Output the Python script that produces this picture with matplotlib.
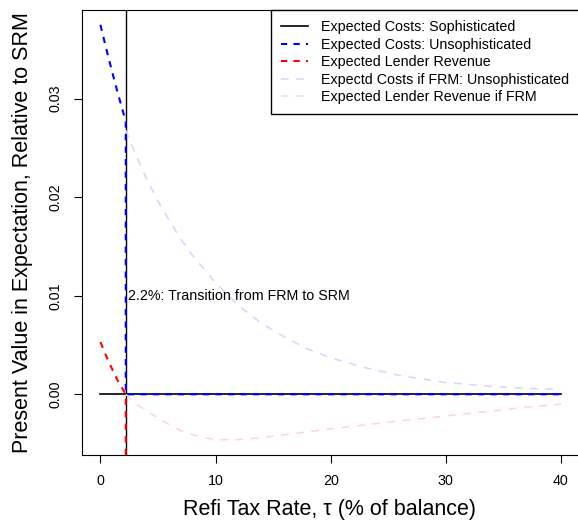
import matplotlib
matplotlib.use("Agg")
import matplotlib.pyplot as plt

plt.rcParams['font.family'] = ['Liberation Sans', 'DejaVu Sans']

# Data
transition = 2.2

soph_x = [0, 40]
soph_y = [0.0, 0.0]

unsoph_x = [0, 0.5, 1.0, 1.5, 2.2, 2.2, 40]
unsoph_y = [0.0375, 0.0351, 0.0328, 0.0306, 0.0277, 0.0, 0.0]

lender_x = [0, 0.5, 1.0, 1.5, 2.2, 2.2]
lender_y = [0.0053, 0.0039, 0.0026, 0.0014, 0.0, -0.02]

frm_cost_x = [2.2, 3, 4, 5, 6, 7, 8, 10, 12, 14, 16, 18, 20, 23, 26, 30, 34, 37, 40]
frm_cost_y = [0.0268, 0.0245, 0.0219, 0.0196, 0.0176, 0.0157, 0.0141, 0.0113, 0.0090,
              0.0072, 0.0058, 0.0046, 0.0037, 0.0027, 0.0019, 0.0012, 0.0008, 0.0006, 0.0005]

frm_rev_x = [2.2, 3, 4, 5, 6, 7, 8, 9, 10, 11, 12, 13, 14, 16, 18, 20, 23, 26, 30, 34, 37, 40]
frm_rev_y = [0.0, -0.0009, -0.0017, -0.0024, -0.0031, -0.0037, -0.0041, -0.0044, -0.0046,
             -0.0046, -0.0046, -0.0045, -0.0044, -0.0041, -0.0038, -0.0035, -0.0031,
             -0.0027, -0.0022, -0.0017, -0.0013, -0.0010]

x_ticks = [0, 10, 20, 30, 40]
y_ticks = [0.00, 0.01, 0.02, 0.03]

fig = plt.figure(figsize=(5.78, 5.2), dpi=100)
ax = fig.add_axes([82 / 578, 65 / 520, 497.4 / 578, 445 / 520])

ax.plot(soph_x, soph_y, color='black', lw=1.2, label='Expected Costs: Sophisticated')
ax.axvline(transition, color='black', lw=1.0)
ax.plot(frm_cost_x, frm_cost_y, color='#d4d4ff', lw=1.1, ls=(0, (5, 5)),
        label='Expectd Costs if FRM: Unsophisticated')
ax.plot(frm_rev_x, frm_rev_y, color='#ffd4d4', lw=1.1, ls=(0, (5, 5)),
        label='Expected Lender Revenue if FRM')
ax.plot(lender_x, lender_y, color='red', lw=1.5, ls=(0, (3, 3)), label='Expected Lender Revenue')
ax.plot(unsoph_x, unsoph_y, color='blue', lw=1.5, ls=(0, (3, 3)), label='Expected Costs: Unsophisticated')

ax.text(2.43, 0.01, '2.2%: Transition from FRM to SRM', fontsize=10.3, va='center', ha='left')

ax.set_xlim(-1.6, 41.6)
ax.set_ylim(-0.00616, 0.0390)
ax.set_xticks(x_ticks)
ax.set_xticklabels([str(t) for t in x_ticks])
ax.set_yticks(y_ticks)
ax.set_yticklabels(['%.2f' % t for t in y_ticks], rotation=90, va='center')
ax.tick_params(direction='out', length=6, width=0.8, labelsize=10.3, pad=8)

ax.set_xlabel('Refi Tax Rate, τ (% of balance)', fontsize=15.5)
ax.set_ylabel('Present Value in Expectation, Relative to SRM', fontsize=15.5)
ax.xaxis.set_label_coords(0.497, -0.100)
ax.yaxis.set_label_coords(-0.099, 0.5)

handles, labels = ax.get_legend_handles_labels()
order = [0, 4, 3, 1, 2]
leg = ax.legend([handles[i] for i in order], [labels[i] for i in order],
                loc='upper right', bbox_to_anchor=(1.0, 1.0), borderaxespad=0,
                fontsize=10.3, frameon=True, fancybox=False, framealpha=1,
                edgecolor='black', handlelength=1.9, handletextpad=0.9,
                labelspacing=0.24, borderpad=0.72)
leg.get_frame().set_linewidth(1.0)

fig.savefig('out.png', dpi=100)
